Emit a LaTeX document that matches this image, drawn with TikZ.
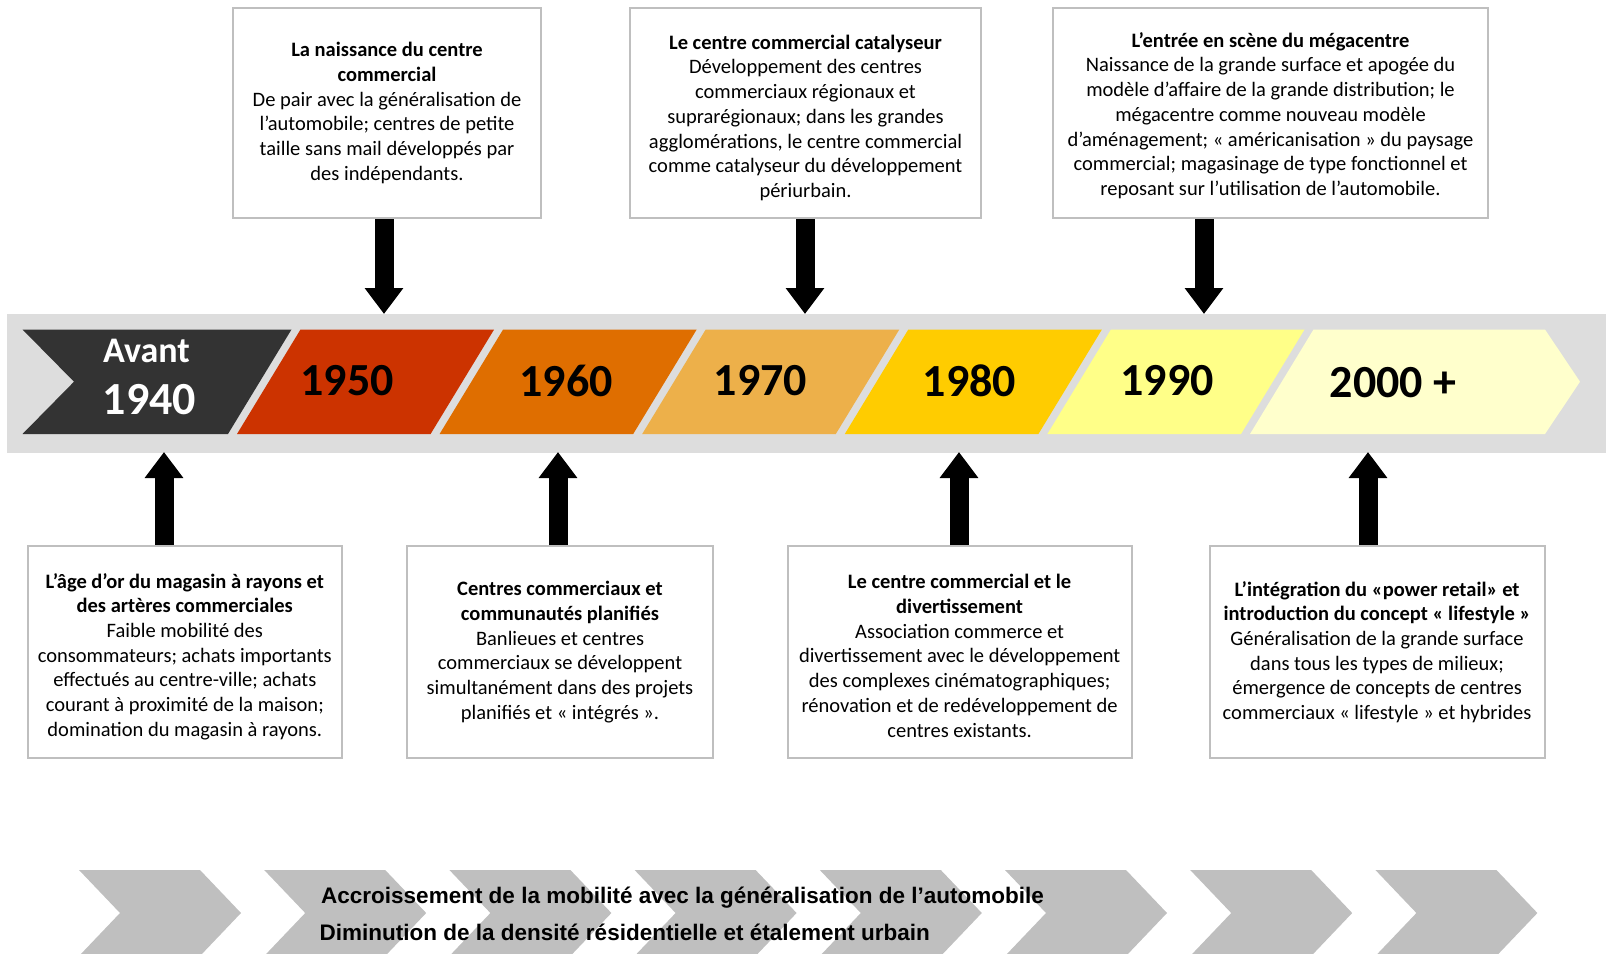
\documentclass[tikz,border=0pt]{standalone}
\usepackage{fontspec}
\setmainfont{Carlito}
\newfontfamily\arialfont{Liberation Sans}
\usetikzlibrary{arrows.meta}
\definecolor{bandGray}{HTML}{DDDDDD}
\definecolor{boxGray}{HTML}{BFBFBF}
\definecolor{chevGray}{HTML}{BFBFBF}
\definecolor{cAvant}{HTML}{333333}
\definecolor{c1950}{HTML}{CC3300}
\definecolor{c1960}{HTML}{DF6E00}
\definecolor{c1970}{HTML}{EDB04A}
\definecolor{c1980}{HTML}{FFCC00}
\definecolor{c1990}{HTML}{FFFF88}
\definecolor{c2000}{HTML}{FFFFCC}
\begin{document}
\begin{tikzpicture}
[x=1pt,y=-1pt,
  boxDecorate/.style={draw=boxGray,line width=2pt,fill=white,align=center,inner sep=0pt,
    font=\fontsize{20.5}{24.7}\selectfont},
  arrowDecorate/.style={line width=19pt,-{Triangle[width=37pt,length=26pt]}},
  yearDecorate/.style={font=\fontsize{46}{50}\selectfont\bfseries,inner sep=0pt},
  chevronDecorate/.style={fill=chevGray}]
\useasboundingbox (0,0) rectangle (1606,953);
%% timeline band
\node (band) [fill=bandGray,minimum width=1599pt,minimum height=138.7pt,inner sep=0pt,
  anchor=north west] at (7,314) {};
%% year shapes
\fill[cAvant] (22.5,329.5) -- (291.5,329.5) -- (228,434) -- (22.5,434) -- (74,381.7) -- cycle;
\node (avant) [yearDecorate,text=white,font=\fontsize{36}{40}\selectfont\bfseries] at (146.5,351) {Avant};
\node (y1940) [yearDecorate,text=white] at (149.5,399.5) {1940};
\foreach \i/\fillcolor/\lab/\lx in {
  1/c1950/1950/347, 2/c1960/1960/566, 3/c1970/1970/760.5,
  4/c1980/1980/969.4, 5/c1990/1990/1167}
{
  \pgfmathsetmacro{\tl}{296+202.6*(\i-1)+4.5}
  \pgfmathsetmacro{\tr}{296+202.6*\i-4.5}
  \fill[\fillcolor] (\tl,329.5) -- (\tr,329.5) -- ({\tr-63.5},434) -- ({\tl-63.5},434) -- cycle;
  \node (y\lab) [yearDecorate] at (\lx,381) {\lab};
}
\fill[c2000] (1313.5,329.5) -- (1545,329.5) -- (1580,381.7) -- (1545,434) -- (1250,434) -- cycle;
\node (y2000) [yearDecorate] at (1393,383) {2000 +};
%% boxes above
\node (tBoxA) [boxDecorate,minimum width=307.5pt,minimum height=210pt] at (387,113)
  {\textbf{La naissance du centre}\\\textbf{commercial}\\De pair avec la généralisation de\\
   l’automobile; centres de petite\\taille sans mail développés par\\des indépendants.};
\node (tBoxB) [boxDecorate,minimum width=351pt,minimum height=210pt] at (805.5,113)
  {\rule{0pt}{24pt}\textbf{Le centre commercial catalyseur}\\Développement des centres\\commerciaux régionaux et\\
   suprarégionaux; dans les grandes\\agglomérations, le centre commercial\\
   comme catalyseur du développement\\périurbain.};
\node (tBoxC) [boxDecorate,minimum width=435pt,minimum height=210pt] at (1270.5,113)
  {\rule{0pt}{20pt}\textbf{L’entrée en scène du mégacentre}\\Naissance de la grande surface et apogée du\\
   modèle d’affaire de la grande distribution; le\\mégacentre comme nouveau modèle\\
   d’aménagement; « américanisation » du paysage\\commercial; magasinage de type fonctionnel et\\
   reposant sur l’utilisation de l’automobile.};
%% boxes below
\node (bBoxA) [boxDecorate,minimum width=314.4pt,minimum height=212pt] at (184.8,652)
  {\rule{0pt}{24pt}\textbf{L’âge d’or du magasin à rayons et}\\\textbf{des artères commerciales}\\Faible mobilité des\\
   consommateurs; achats importants\\effectués au centre-ville; achats\\
   courant à proximité de la maison;\\domination du magasin à rayons.};
\node (bBoxB) [boxDecorate,minimum width=306.4pt,minimum height=212pt] at (560,652)
  {\textbf{Centres commerciaux et}\\\textbf{communautés planifiés}\\Banlieues et centres\\
   commerciaux se développent\\simultanément dans des projets\\planifiés et « intégrés ».};
\node (bBoxC) [boxDecorate,minimum width=344pt,minimum height=212pt] at (959.6,652)
  {\rule{0pt}{22pt}\textbf{Le centre commercial et le}\\\textbf{divertissement}\\Association commerce et\\
   divertissement avec le développement\\des complexes cinématographiques;\\
   rénovation et de redéveloppement de\\centres existants.};
\node (bBoxD) [boxDecorate,minimum width=335pt,minimum height=212pt] at (1377,652)
  {\textbf{L’intégration du «power retail» et}\\\textbf{introduction du concept « lifestyle »}\\
   Généralisation de la grande surface\\dans tous les types de milieux;\\
   émergence de concepts de centres\\commerciaux « lifestyle » et hybrides};
%% arrows to the band
\foreach \tipname/\x/\y/\boxname/\side in {
  tip1950/384/314/tBoxA/south, tip1970/805/314/tBoxB/south, tip1990/1204/314/tBoxC/south,
  tipAvant/164/452/bBoxA/north, tip1960/558/452/bBoxB/north,
  tip1980/959/452/bBoxC/north, tip2000/1368/452/bBoxD/north}
{
  \coordinate (\tipname) at (\x,\y);
  \draw[arrowDecorate] (\tipname |- \boxname.\side) -- (\tipname);
}
%% chevrons at the bottom
\foreach \i in {0,...,7}
{
  \pgfmathsetmacro{\lx}{79+185.2*\i}
  \fill[chevronDecorate] (\lx,870) -- ({\lx+121},870) -- ({\lx+162},913)
    -- ({\lx+121},956) -- (\lx,956) -- ({\lx+41},913) -- cycle;
}
\node (mobility) [anchor=west,inner sep=0pt,font=\arialfont\bfseries\fontsize{22.5}{26}\selectfont]
  at (321,898) {Accroissement de la mobilité avec la généralisation de l’automobile};
\node (density) [anchor=west,inner sep=0pt,font=\arialfont\bfseries\fontsize{22.5}{26}\selectfont]
  at (319.5,932) {Diminution de la densité résidentielle et étalement urbain};
\end{tikzpicture}
\end{document}
